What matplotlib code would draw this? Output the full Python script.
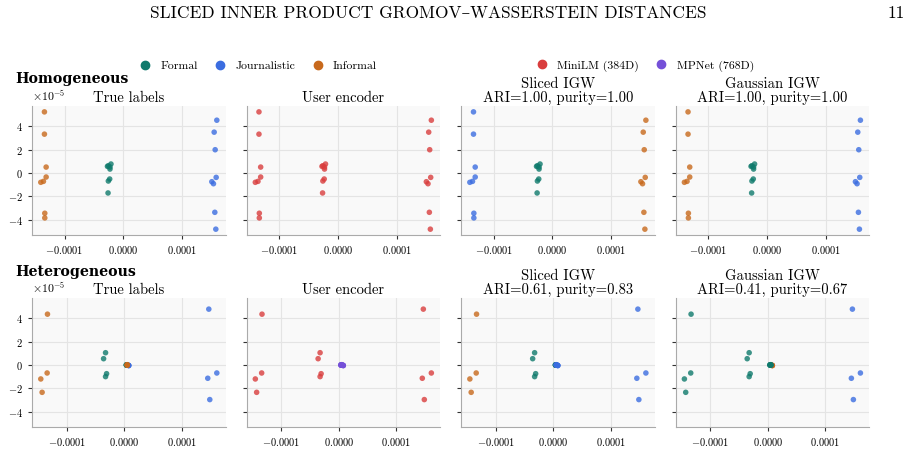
import numpy as np
import matplotlib
matplotlib.use("Agg")
import matplotlib.pyplot as plt
from matplotlib.lines import Line2D

plt.rcParams['font.family'] = ['cmr10', 'DejaVu Serif']
plt.rcParams['mathtext.fontset'] = 'cm'
plt.rcParams['axes.formatter.use_mathtext'] = True
plt.rcParams['axes.unicode_minus'] = True

# style labels and encoders
classes = ['Formal', 'Journalistic', 'Informal']
class_colors = ['#0f7a6c', '#3b6de0', '#c8691c']
encoders = ['MiniLM (384D)', 'MPNet (768D)']
encoder_colors = ['#d93d3d', '#7550d8']

# homogeneous: 8 formal, 8 journalistic, 8 informal (all MiniLM)
hom_x = [-0.21e-4, -0.255e-4, -0.27e-4, -0.227e-4, -0.227e-4, -0.232e-4, -0.255e-4, -0.26e-4,
         1.592e-4, 1.547e-4, 1.564e-4, 1.581e-4, 1.507e-4, 1.535e-4, 1.558e-4, 1.575e-4,
         -1.343e-4, -1.343e-4, -1.314e-4, -1.314e-4, -1.36e-4, -1.405e-4, -1.337e-4, -1.337e-4]
hom_y = [0.77e-5, 0.62e-5, 0.57e-5, 0.51e-5, 0.34e-5, -0.51e-5, -0.68e-5, -1.70e-5,
         4.51e-5, 3.49e-5, 1.99e-5, -0.37e-5, -0.74e-5, -0.91e-5, -3.35e-5, -4.79e-5,
         5.22e-5, 3.32e-5, 0.51e-5, -0.34e-5, -0.71e-5, -0.79e-5, -3.43e-5, -3.83e-5]
hom_true = [0, 0, 0, 0, 0, 0, 0, 0, 1, 1, 1, 1, 1, 1, 1, 1, 2, 2, 2, 2, 2, 2, 2, 2]
hom_encoder = [0] * 24
hom_sliced = [0, 0, 0, 0, 0, 0, 0, 0, 2, 2, 2, 2, 2, 2, 2, 2, 1, 1, 1, 1, 1, 1, 1, 1]
hom_gauss = [0, 0, 0, 0, 0, 0, 0, 0, 1, 1, 1, 1, 1, 1, 1, 1, 2, 2, 2, 2, 2, 2, 2, 2]

# heterogeneous: 12 MiniLM (4 per class) then 12 MPNet (4 per class)
het_x = [-0.325e-4, -0.359e-4, -0.307e-4, -0.325e-4,
         1.467e-4, 1.606e-4, 1.449e-4, 1.484e-4,
         -1.333e-4, -1.339e-4, -1.449e-4, -1.426e-4,
         0.035e-4, 0.038e-4, 0.036e-4, 0.04e-4,
         0.075e-4, 0.078e-4, 0.073e-4, 0.077e-4,
         0.05e-4, 0.052e-4, 0.049e-4, 0.053e-4]
het_y = [1.05e-5, 0.54e-5, -0.74e-5, -0.99e-5,
         4.77e-5, -0.68e-5, -1.13e-5, -2.95e-5,
         4.34e-5, -0.68e-5, -1.19e-5, -2.33e-5,
         0.02e-5, -0.02e-5, 0.01e-5, -0.01e-5,
         -0.03e-5, -0.05e-5, -0.02e-5, -0.04e-5,
         0.03e-5, 0.01e-5, 0.0, -0.02e-5]
het_true = [0, 0, 0, 0, 1, 1, 1, 1, 2, 2, 2, 2, 0, 0, 0, 0, 1, 1, 1, 1, 2, 2, 2, 2]
het_encoder = [0] * 12 + [1] * 12
het_sliced = [0, 0, 0, 0, 1, 1, 1, 1, 2, 2, 2, 2, 0, 0, 0, 0, 1, 1, 1, 1, 1, 1, 1, 1]
het_gauss = [0, 0, 0, 0, 1, 1, 1, 1, 0, 0, 0, 0, 0, 0, 0, 0, 2, 2, 2, 2, 0, 0, 0, 0]

titles_top = ['True labels', 'User encoder', 'Sliced IGW\nARI=1.00, purity=1.00',
              'Gaussian IGW\nARI=1.00, purity=1.00']
titles_bot = ['True labels', 'User encoder', 'Sliced IGW\nARI=0.61, purity=0.83',
              'Gaussian IGW\nARI=0.41, purity=0.67']

fig, axes = plt.subplots(2, 4, figsize=(9.14, 4.65), dpi=100, sharey=True, sharex='row')
fig.subplots_adjust(left=0.035, right=0.951, top=0.772, bottom=0.0817, wspace=0.108, hspace=0.488)

rows = [
    (hom_x, hom_y, [hom_true, hom_encoder, hom_sliced, hom_gauss], titles_top),
    (het_x, het_y, [het_true, het_encoder, het_sliced, het_gauss], titles_bot),
]

for r, (xs, ys, labelsets, titles) in enumerate(rows):
    for c in range(4):
        ax = axes[r, c]
        pal = encoder_colors if c == 1 else class_colors
        cols = [pal[l] for l in labelsets[c]]
        ax.scatter(xs, ys, c=cols, s=16, alpha=0.8, linewidths=0, zorder=3)
        ax.set_title(titles[c], fontsize=10.5, pad=3, linespacing=1.0)
        ax.set_facecolor('#f9f9f9')
        ax.grid(True, color='#e4e4e4', linewidth=0.8, zorder=0)
        ax.set_axisbelow(True)
        for s in ['top', 'right']:
            ax.spines[s].set_visible(False)
        for s in ['left', 'bottom']:
            ax.spines[s].set_color('#aaaaaa')
        ax.tick_params(labelsize=7.5, length=3, width=0.8, color='#333333', pad=3.5)
        ax.yaxis.get_offset_text().set_fontsize(8.5)

# legends
class_handles = [Line2D([], [], marker='o', linestyle='', color=col, markersize=6, label=lab)
                 for lab, col in zip(classes, class_colors)]
enc_handles = [Line2D([], [], marker='o', linestyle='', color=col, markersize=6, label=lab)
               for lab, col in zip(encoders, encoder_colors)]
fig.legend(handles=class_handles, loc='center', bbox_to_anchor=(255 / 914, 1 - 66 / 465), ncol=3,
           frameon=False, fontsize=8.5, handletextpad=0.3, columnspacing=0.9)
fig.legend(handles=enc_handles, loc='center', bbox_to_anchor=(642 / 914, 1 - 66 / 465), ncol=2,
           frameon=False, fontsize=8.5, handletextpad=0.3, columnspacing=0.9)

fig.text(15 / 914, 1 - 79 / 465, 'Homogeneous', family='DejaVu Serif', fontweight='bold',
         fontsize=10.2, va='center', ha='left')
fig.text(15 / 914, 1 - 272 / 465, 'Heterogeneous', family='DejaVu Serif', fontweight='bold',
         fontsize=10.2, va='center', ha='left')

fig.text(428 / 914, 1 - 13 / 465, 'SLICED INNER PRODUCT GROMOV\u2013WASSERSTEIN DISTANCES',
         fontsize=12.5, ha='center', va='center')
fig.text(905 / 914, 1 - 13 / 465, '11', fontsize=12.5, ha='right', va='center')

fig.savefig('out.png', dpi=100)
